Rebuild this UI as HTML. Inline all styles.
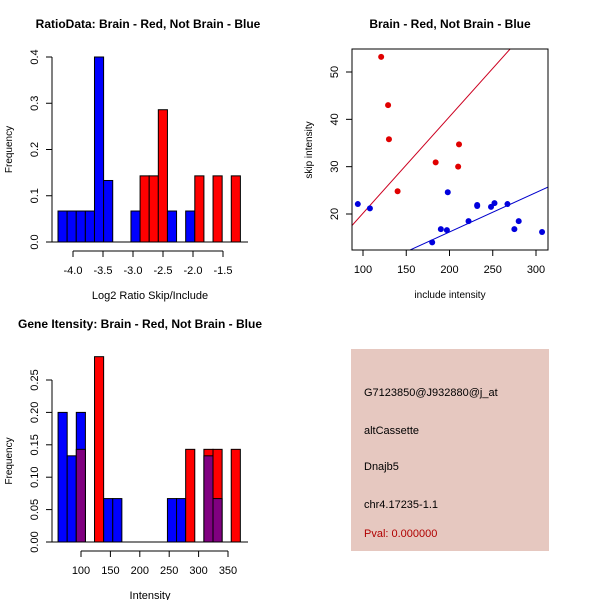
<!DOCTYPE html>
<html><head><meta charset="utf-8"><style>
body{margin:0;background:#fff}
svg{font-family:"Liberation Sans",sans-serif;font-size:11px}
</style></head><body>
<svg id="s" width="600" height="600" xmlns="http://www.w3.org/2000/svg">
<rect width="600" height="600" fill="#fff"/>
<g id="tl"></g>
<g id="tr"></g>
<g id="bl"></g>
<g>
<rect x="351" y="349" width="198" height="202" fill="#e6c8c0"/>
<text x="364" y="396">G7123850@J932880@j_at</text>
<text x="364" y="434">altCassette</text>
<text x="364" y="470">Dnajb5</text>
<text x="364" y="508">chr4.17235-1.1</text>
<text x="364" y="537" fill="#b00000">Pval: 0.000000</text>
</g>
</svg>
<script>
// Ratio histogram data (bin index -> frequency)
const ratioBinStart = -4.25, ratioBinWidth = 0.152;
const ratioBlue = [0.067,0.067,0.067,0.067,0.4,0.133,0,0,0.067,0,0,0,0.067,0,0.067,0,0,0,0,0];
const ratioRed  = [0,0,0,0,0,0,0,0,0,0.143,0.143,0.286,0,0,0,0.143,0,0.143,0,0.143];
const ratioXTicks = [-4.0,-3.5,-3.0,-2.5,-2.0,-1.5];
const ratioYTicks = [0,0.1,0.2,0.3,0.4];
// Intensity histogram data
const intBinStart = 61, intBinWidth = 15.5;
const intBlue = [0.2,0.133,0.2,0,0,0.067,0.067,0,0,0,0,0,0.067,0.067,0,0,0.133,0.067,0,0];
const intRed  = [0,0,0.143,0,0.286,0,0,0,0,0,0,0,0,0,0.143,0,0.143,0.143,0,0.143];
const intXTicks = [100,150,200,250,300,350];
const intYTicks = [0,0.05,0.10,0.15,0.20,0.25];
// Scatter data
const redX = [121,129,130,140,184,210,211];
const redY = [53.2,43,35.8,24.8,30.9,30.0,34.7];
const blueX = [94,108,180,190,197,198,222,232,232,248,252,267,275,280,307];
const blueY = [22.1,21.2,14.0,16.8,16.6,24.6,18.5,21.7,21.9,21.5,22.3,22.1,16.8,18.5,16.2];
const redFit = [0.204,-0.24];
const blueFit = [0.0834,-0.48];
const scXTicks = [100,150,200,250,300];
const scYTicks = [20,30,40,50];

const NS="http://www.w3.org/2000/svg";
function mk(p,t,a,txt){const e=document.createElementNS(NS,t);for(const k in a)e.setAttribute(k,a[k]);if(txt!==undefined)e.textContent=txt;p.appendChild(e);return e;}

function hist(g,o){
  const sx=v=>o.x0+(v-o.v0)*o.kx, sy=v=>o.base-v*o.ky;
  mk(g,'text',{x:o.tx,y:28,'text-anchor':'middle','font-weight':'bold','font-size':'12'},o.title);
  for(let i=0;i<o.blue.length;i++){
    const b=o.blue[i], r=o.red[i];
    const xa=sx(o.bs+i*o.bw), xb=sx(o.bs+(i+1)*o.bw);
    const hi=Math.max(b,r), lo=Math.min(b,r);
    if(hi>0){
      const e=mk(g,'rect',{x:xa,y:sy(hi),width:xb-xa,height:sy(0)-sy(hi),fill:b>=r?'#0000ff':'#ff0000',stroke:'#000','stroke-width':1});
      
      
    }
    if(lo>0){
      const e=mk(g,'rect',{x:xa,y:sy(lo),width:xb-xa,height:sy(0)-sy(lo),fill:'#800080',stroke:'#000','stroke-width':1});
      
      
    }
  }
  mk(g,'line',{x1:50,x2:248,y1:o.base,y2:o.base,stroke:'#000'});
  const yt=o.yt, ay=o.ay;
  mk(g,'line',{x1:52,x2:52,y1:sy(yt[yt.length-1]),y2:sy(yt[0]),stroke:'#000'});
  yt.forEach(v=>{mk(g,'line',{x1:46,x2:52,y1:sy(v),y2:sy(v),stroke:'#000'});
    mk(g,'text',{x:0,y:0,transform:`translate(38,${sy(v)}) rotate(-90)`,'text-anchor':'middle'},o.yf(v));});
  const xt=o.xt;
  mk(g,'line',{x1:sx(xt[0]),x2:sx(xt[xt.length-1]),y1:ay,y2:ay,stroke:'#000'});
  xt.forEach(v=>{mk(g,'line',{x1:sx(v),x2:sx(v),y1:ay,y2:ay+6,stroke:'#000'});
    mk(g,'text',{x:sx(v),y:ay+23,'text-anchor':'middle'},o.xf(v));});
  mk(g,'text',{x:150,y:ay+48,'text-anchor':'middle'},o.xl);
  mk(g,'text',{x:0,y:0,transform:`translate(12,${(sy(0)+sy(yt[yt.length-1]))/2}) rotate(-90)`,'text-anchor':'middle','font-size':'10'},'Frequency');
}
hist(document.getElementById('tl'),{title:'RatioData: Brain - Red, Not Brain - Blue',tx:148,x0:73,v0:-4,kx:60,base:242,ky:462.5,
  bs:ratioBinStart,bw:ratioBinWidth,blue:ratioBlue,red:ratioRed,xt:ratioXTicks,yt:ratioYTicks,ay:251,
  xf:v=>v.toFixed(1),yf:v=>v.toFixed(1),xl:'Log2 Ratio Skip/Include'});
const blg=document.getElementById('bl');
blg.setAttribute('transform','translate(0,300)');
hist(blg,{title:'Gene Itensity: Brain - Red, Not Brain - Blue',tx:140,x0:81,v0:100,kx:0.588,base:242,ky:648,
  bs:intBinStart,bw:intBinWidth,blue:intBlue,red:intRed,xt:intXTicks,yt:intYTicks,ay:251,
  xf:v=>String(v),yf:v=>v.toFixed(2),xl:'Intensity'});

// scatter
(function(){
  const g=document.getElementById('tr');
  const L=352,R=548,T=49,B=250;
  const sx=v=>363+(v-100)*0.865, sy=v=>214-(v-20)*4.733;
  mk(g,'text',{x:450,y:28,'text-anchor':'middle','font-weight':'bold','font-size':'12'},'Brain - Red, Not Brain - Blue');
  const defs=mk(g,'defs',{});const cp=mk(defs,'clipPath',{id:'cp'});mk(cp,'rect',{x:L,y:T,width:R-L,height:B-T});
  const lines=mk(g,'g',{'clip-path':'url(#cp)'});
  const xa=(L-363)/0.865+100, xb=(R-363)/0.865+100;
  [[redFit,'#cc0020','red-fit-line'],[blueFit,'#0000cc','blue-fit-line']].forEach(([f,c,n])=>{
    const e=mk(lines,'line',{x1:sx(xa),y1:sy(f[0]*xa+f[1]),x2:sx(xb),y2:sy(f[0]*xb+f[1]),stroke:c});
    
    
  });
  redX.forEach((x,i)=>{const e=mk(g,'circle',{cx:sx(x),cy:sy(redY[i]),r:3,fill:'#e00000'});
    
    });
  blueX.forEach((x,i)=>{const e=mk(g,'circle',{cx:sx(x),cy:sy(blueY[i]),r:3,fill:'#0000dd'});
    
    });
  mk(g,'rect',{x:L,y:T,width:R-L,height:B-T,fill:'none',stroke:'#000'});
  scXTicks.forEach(v=>{mk(g,'line',{x1:sx(v),x2:sx(v),y1:B,y2:B+6,stroke:'#000'});
    mk(g,'text',{x:sx(v),y:B+23,'text-anchor':'middle'},String(v));});
  scYTicks.forEach(v=>{mk(g,'line',{x1:L-6,x2:L,y1:sy(v),y2:sy(v),stroke:'#000'});
    mk(g,'text',{x:0,y:0,transform:`translate(${L-14},${sy(v)}) rotate(-90)`,'text-anchor':'middle'},String(v));});
  mk(g,'text',{x:450,y:298,'text-anchor':'middle','font-size':'10'},'include intensity');
  mk(g,'text',{x:0,y:0,transform:'translate(312,150) rotate(-90)','text-anchor':'middle','font-size':'10'},'skip intensity');
})();
</script>
</body></html>
